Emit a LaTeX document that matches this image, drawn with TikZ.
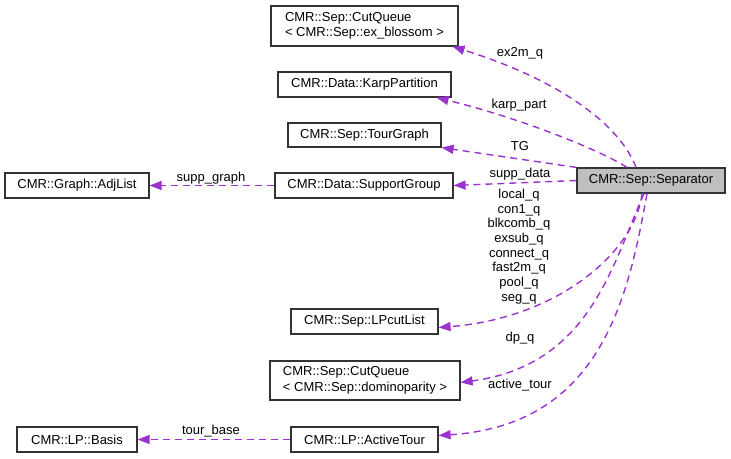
\documentclass[tikz,border=0pt]{standalone}
\usepackage{fontspec}
\setmainfont{Liberation Sans}
\usepackage{xcolor}
\usetikzlibrary{arrows.meta,positioning}
\tikzset{>={Triangle[length=12pt,width=9pt]}}
\definecolor{deppurple}{HTML}{9A32CD}
\definecolor{selfgray}{HTML}{BFBFBF}

\begin{document}
\begin{tikzpicture}[x=1pt,y=-1pt,
                    font=\fontsize{13}{15.5}\selectfont,
                    cls/.style={draw=black!80, line width=1.2pt, inner sep=0pt, minimum height=25pt, align=left},
                    self/.style={cls, fill=selfgray},
                    dep/.style={deppurple, line width=1.4pt, dash pattern=on 7pt off 5pt, ->},
                    lbl/.style={inner sep=0pt, align=center, font=\fontsize{13}{14.7}\selectfont},
                   ]

\useasboundingbox (0,0) rectangle (731,458);

% classes
\node[self, minimum width=148pt] (sep) at (651,180.5) {CMR::Sep::Separator};

\node[cls, minimum width=187pt, minimum height=40pt] (exq) at (364.5,26) {CMR::Sep::CutQueue\\< CMR::Sep::ex\_blossom >};
\node[cls, minimum width=173pt] (karp) at (364.5,84.5) {CMR::Data::KarpPartition};
\node[cls, minimum width=153pt, minimum height=24pt] (tg) at (364.5,135) {CMR::Sep::TourGraph};
\node[cls, minimum width=178pt] (supp) at (364,185.5) {CMR::Data::SupportGroup};
\node[cls, minimum width=144pt] (adj) at (77,185.5) {CMR::Graph::AdjList};
\node[cls, minimum width=147pt] (lpcut) at (364.5,321.5) {CMR::Sep::LPcutList};
\node[cls, minimum width=190pt, minimum height=39pt] (dpq) at (365,380.5) {CMR::Sep::CutQueue\\< CMR::Sep::dominoparity >};
\node[cls, minimum width=147pt] (tour) at (364.5,439.5) {CMR::LP::ActiveTour};
\node[cls, minimum width=120pt] (basis) at (77,439.5) {CMR::LP::Basis};

% members
\draw[dep] ([xshift=-15pt]sep.north) .. controls (620,125) and (560,80) .. ([xshift=-6pt]exq.south east);
\draw[dep] ([xshift=-24pt]sep.north) .. controls (600,150) and (520,118) .. ([xshift=-15pt]karp.south east);
\draw[dep] (sep.north west) -- (tg.south east);
\draw[dep] (sep.west) -- (supp.east);
\draw[dep] (supp.west) -- (adj.east);
\draw[dep] ([xshift=-9pt]sep.south) .. controls (636,250) and (560,318) .. ([yshift=-6pt]lpcut.east);
\draw[dep] ([xshift=-7pt]sep.south) .. controls (612,265) and (590,365) .. ([yshift=-2pt]dpq.east);
\draw[dep] ([xshift=-4pt]sep.south) .. controls (628,300) and (600,425) .. ([yshift=4pt]tour.east);
\draw[dep] (tour.west) -- (basis.east);

% labels
\node[lbl] (l-ex) at (520,53) {ex2m\_q};
\node[lbl] (l-karp) at (519,105) {karp\_part};
\node[lbl] (l-tg) at (520,146) {TG};
\node[lbl] (l-supp) at (520,174) {supp\_data};
\node[lbl] (l-adj) at (211,178) {supp\_graph};
\node[lbl] (l-lp) at (519,246.5) {local\_q\\con1\_q\\blkcomb\_q\\exsub\_q\\connect\_q\\fast2m\_q\\pool\_q\\seg\_q};
\node[lbl] (l-dp) at (520,338) {dp\_q};
\node[lbl] (l-tour) at (520,385) {active\_tour};
\node[lbl] (l-basis) at (211,431) {tour\_base};

\end{tikzpicture}
\end{document}
